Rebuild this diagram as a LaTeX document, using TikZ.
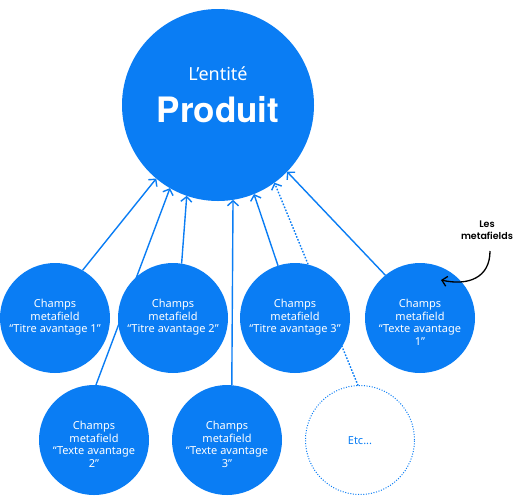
\documentclass[tikz,border=0pt]{standalone}
\usepackage{fontspec}
\setmainfont{Noto Sans}
\newfontfamily\handfont{Poppins SemiBold}
\newfontfamily\prodfont{TeX Gyre Heros}
\usetikzlibrary{arrows.meta,backgrounds}
\definecolor{pblue}{HTML}{0A7DF4}
\begin{document}
\begin{tikzpicture}[x=1pt,y=-1pt,
  bigcirc/.style={circle,fill=pblue,inner sep=0pt,outer sep=0pt,minimum size=192pt},
  smallcirc/.style={circle,fill=pblue,inner sep=0pt,outer sep=0pt,minimum size=110pt},
  etccirc/.style={circle,draw=pblue,line width=1pt,dash pattern=on 1pt off 1.6pt,inner sep=0pt,outer sep=0pt,minimum size=109pt},
  ctext/.style={text=white,align=center,inner sep=0pt,font=\fontsize{11}{12.7}\selectfont},
  link/.style={draw=pblue,line width=1.4pt,-{Straight Barb[length=5pt,width=11pt,line width=1.4pt]}},
  dotlink/.style={link,dash pattern=on 1.6pt off 1.6pt}
]
\useasboundingbox (0,0) rectangle (529,496);
% main circle
\node[bigcirc] (main) at (218,105) {};
\node[text=white,anchor=base,inner sep=0pt,font=\fontsize{18}{20}\selectfont] (ent) at (218,80) {L’entité};
\node[text=white,anchor=base,inner sep=0pt,font=\prodfont\bfseries\fontsize{35}{36}\selectfont] (prod) at (218,122) {Produit};
% small circles
\node[smallcirc] (c1) at (55,318) {};
\node[smallcirc] (c2) at (173,318) {};
\node[smallcirc] (c3) at (295,318) {};
\node[smallcirc] (c4) at (420,318) {};
\node[smallcirc] (c5) at (94,440) {};
\node[smallcirc] (c6) at (227,440) {};
\node[etccirc] (c7) at (360,440) {};
% texts
\node[ctext,anchor=north] (c1t) at (55,299) {Champs\\metafield\\“Titre avantage 1”};
\node[ctext,anchor=north] (c2t) at (173,299) {Champs\\metafield\\“Titre avantage 2”};
\node[ctext,anchor=north] (c3t) at (295,299) {Champs\\metafield\\“Titre avantage 3”};
\node[ctext,anchor=north] (c4t) at (420,299) {Champs\\metafield\\“Texte avantage\\1”};
\node[ctext,anchor=north] (c5t) at (94,421) {Champs\\metafield\\“Texte avantage\\2”};
\node[ctext,anchor=north] (c6t) at (227,421) {Champs\\metafield\\“Texte avantage\\3”};
\node[ctext,text=pblue] (c7t) at (360,441) {Etc...};
% connectors behind circles
\begin{scope}[on background layer]
\draw[link] (c1.60) -- (main.-130);
\draw[link] (c5.88) -- (main.-120);
\draw[link] (c2.81) -- (main.-109);
\draw[link] (c6.85) -- (main.-81);
\draw[link] (c3.108) -- (main.-68);
\draw[dotlink] (c7.92) -- (main.-54.5);
\draw[link] (c4.129) -- (main.-44);
\end{scope}
% annotation
\node[align=center,inner sep=0pt,font=\handfont\fontsize{9.5}{12}\selectfont] (ann) at (487,230) {Les\\metafields};
\coordinate (annstart) at (490,251);
\coordinate (annend) at (441,280);
\draw[line width=1.3pt,-{Straight Barb[length=5pt,width=10pt,line width=1.3pt]}] (annstart) .. controls (490,278) and (468,286) .. (annend);
\end{tikzpicture}
\end{document}
